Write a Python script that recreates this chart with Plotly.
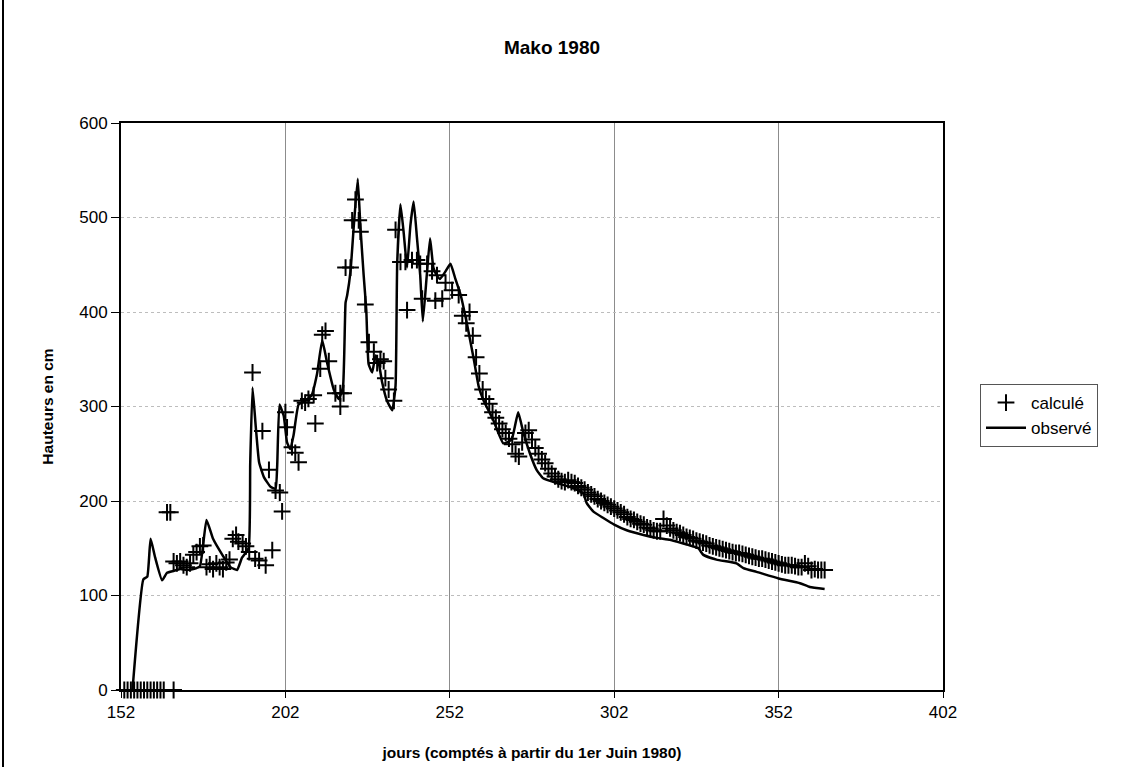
import plotly.graph_objects as go

# ---------------- data ----------------
obs_days = [155.5, 158.8, 160, 161, 162.4, 164.5, 166, 168, 170, 172, 174, 176, 178, 180, 183,
            185.3, 187.3, 188.8, 190.8, 191.3, 192, 193, 194, 195.5, 197.5, 199, 199.5, 200.2,
            201.5, 202.5, 203.5, 204.5, 206, 208, 210, 211.6, 213.2, 214.7, 216.7, 218.2, 219.5,
            220.3, 220.8, 221.8, 222.8, 224, 224.8, 225.8, 226.6, 227.3, 228.4, 229.4, 230.4,
            231.4, 232.9, 234.5, 235.5, 236, 237, 238, 239, 240, 241, 242, 243, 243.8, 245, 246,
            247, 248, 249, 250.7, 252.2, 253.7, 255.3, 257.3, 259.3, 260.8, 262.2, 265.2, 268.3,
            270.8, 272.8, 274.4, 276.4, 278.4, 280.4, 284.5, 288.6, 292.6, 293.6, 295.6, 298.7,
            302, 305.8, 310.9, 314.9, 319, 321, 325, 327.6, 329.1, 333.1, 339.2, 341.3, 345.3,
            352, 358.5, 361.5, 366]
obs_vals = [0, 117, 120, 160, 140, 116, 124, 126, 128, 127, 128, 131, 180, 160, 142,
            130, 127, 140, 150, 240, 320, 278, 241, 225, 215, 213, 237, 302,
            290, 262, 255, 270, 302, 306, 312, 334, 370, 346, 318, 308, 320,
            410, 418, 443, 491, 541, 491, 439, 402, 345, 336, 354, 346,
            326, 306, 296, 322, 451, 514, 483, 447, 491, 517, 479, 439, 390, 439, 478,
            447, 439, 435, 443, 451, 435, 418, 386, 350, 321, 307, 286, 261,
            265, 294, 272, 250, 233, 224, 219, 215, 208, 198, 189, 182,
            175, 169, 164, 161, 159, 157, 153, 150, 143, 138, 134, 129, 125,
            118, 113, 109, 107]

calc_days = [153, 154, 155, 156, 157, 158, 159, 160, 161, 162, 163, 164, 165, 168,
             166, 167,
             168, 169, 170, 171, 172, 173, 174, 175, 176, 177, 178, 179, 180, 181, 182, 183,
             184, 185, 186, 187, 187.7, 189, 190, 191, 192, 192.8, 194, 195, 196, 197, 198,
             199, 200.3, 201,
             202, 202.5, 204, 205, 206, 207, 208, 209, 210.6, 211.1, 212.6, 213.2, 214.2,
             215.2, 217.2, 218.7, 218.7, 219.7, 220.3, 221.8, 222.3, 223.3, 224.3, 224.8,
             226.3, 227.4, 228.9, 229.9, 230.9, 231.9, 232.4, 233.4, 235, 235.5, 237, 238.5,
             239, 240.5, 242, 243, 243.6, 245.1, 246.6, 247.6, 248.1, 249.7, 250.7, 252.7,
             254.7, 255.8, 257,
             258, 259, 260, 261, 262, 263, 264, 265, 266, 267, 268, 269, 270, 271, 272, 273,
             274, 275, 276, 277, 278, 279, 280, 281, 282, 283, 284, 285, 286, 287, 288, 289,
             290, 291, 292, 293, 294, 295, 296, 297, 298, 299, 300, 301, 302, 303, 304, 305,
             306, 307, 308, 309, 310, 311, 312, 313, 314, 315, 316, 317, 318, 319, 320, 321,
             322, 323, 324, 325, 326, 327, 328, 329, 330, 331, 332, 333, 334, 335, 336, 337,
             338, 339, 340, 341, 342, 343, 344, 345, 346, 347, 348, 349, 350, 351, 352, 353,
             354, 355, 356, 357, 358, 359, 360, 361, 362, 363, 364, 365, 366]
calc_vals = [0, 0, 0, 0, 0, 0, 0, 0, 0, 0, 0, 0, 0, 0,
             188, 188,
             136, 134, 136, 132, 130, 134, 143, 146, 152, 153, 130, 133, 128, 134, 130, 128,
             135, 138, 160, 164, 157, 155, 152, 146, 336, 139, 137, 274, 132, 233, 148,
             211, 209, 189,
             294, 278, 257, 251, 241, 306, 304, 308, 312, 282, 340, 376, 380,
             348, 314, 314, 300, 314, 447, 447, 497, 519, 497, 485,
             408, 368, 358, 346, 350, 348, 330, 318, 306, 487, 453, 453,
             402, 455, 455, 451, 414, 451, 443, 412, 439, 414, 431, 423,
             418, 396, 388,
             400, 375, 352, 335, 318, 308, 303, 294, 288, 282, 276, 272, 266, 260, 250, 247,
             262, 272, 275, 265, 256, 250, 244, 240, 234, 229, 226, 223, 221, 220, 222, 220,
             219, 216, 214, 212, 209, 207, 205, 202, 200, 198, 196, 194, 192, 190, 188, 186,
             183, 181, 180, 178, 176, 175, 172, 171, 169, 168, 168, 181, 174, 171, 169, 167,
             166, 164, 162, 161, 160, 158, 157, 156, 155, 153, 152, 151, 150, 149, 148, 147,
             146, 145, 145, 144, 143, 142, 141, 140, 139, 139, 138, 137, 136, 135, 134, 133,
             132, 132, 132, 131, 130, 130, 134, 131, 127, 128, 127, 127, 127]

x_ticks = [152, 202, 252, 302, 352, 402]
y_ticks = [0, 100, 200, 300, 400, 500, 600]

# ---------------- figure ----------------
W, H = 1139, 767
L, R, T, B = 121, 943, 123, 690
FONT = "Liberation Sans, Arial, sans-serif"

fig = go.Figure()
fig.add_trace(go.Scatter(
    x=calc_days, y=calc_vals, mode="markers", name="calculé", cliponaxis=False,
    marker=dict(symbol="cross-thin", size=12, color="black",
                line=dict(width=2, color="black")),
))
fig.add_trace(go.Scatter(
    x=obs_days, y=obs_vals, mode="lines", name="observé",
    line=dict(color="black", width=2.5, shape="spline", smoothing=0.4),
))

def px_x(px):
    return (px - L) / (R - L)

def px_y(py):
    return (B - py) / (B - T)

# outer frame left edge
fig.add_shape(type="line", xref="paper", yref="paper",
              x0=px_x(3), x1=px_x(3), y0=px_y(767), y1=px_y(0),
              line=dict(color="black", width=2))

fig.update_layout(
    width=W, height=H,
    margin=dict(l=L, r=W - R, t=T, b=H - B, autoexpand=False),
    paper_bgcolor="white", plot_bgcolor="white",
    font=dict(family=FONT, size=15, color="black"),
    title=dict(text="<b>Mako 1980</b>", x=552 / W,
               xanchor="center", y=1 - 47 / H, yanchor="middle",
               xref="container", yref="container",
               font=dict(family=FONT, size=19, color="black")),
    showlegend=True,
    legend=dict(x=px_x(980), y=px_y(384), xanchor="left", yanchor="top",
                bordercolor="#555", borderwidth=1, bgcolor="white",
                font=dict(family=FONT, size=17, color="black"),
                itemwidth=40, entrywidth=88, tracegroupgap=0),
)
fig.update_xaxes(
    range=[152, 402], tickmode="array", tickvals=x_ticks,
    ticktext=[str(v) for v in x_ticks],
    showline=True, linecolor="black", linewidth=2, mirror=True,
    ticks="outside", ticklen=6, tickcolor="black", tickwidth=1,
    showgrid=True, gridcolor="#8c8c8c", gridwidth=1,
    zeroline=False, tickfont=dict(size=17),
    title=dict(text="<b>jours (comptés à partir du 1er Juin 1980)</b>",
               font=dict(size=15.5), standoff=26),
)
fig.update_yaxes(
    range=[0, 600], tickmode="array", tickvals=y_ticks,
    ticktext=[str(v) for v in y_ticks],
    showline=True, linecolor="black", linewidth=2, mirror=True,
    ticks="outside", ticklen=8, tickcolor="black", tickwidth=1,
    showgrid=True, gridcolor="#bdbdbd", gridwidth=1, griddash="dot",
    zeroline=False, tickfont=dict(size=17),
    title=dict(text="<b>Hauteurs en cm</b>", font=dict(size=15.5), standoff=22),
)

fig.write_html("out.html", config={"displayModeBar": False},
               post_script="document.body.style.margin='0';document.body.style.overflow='hidden';")
